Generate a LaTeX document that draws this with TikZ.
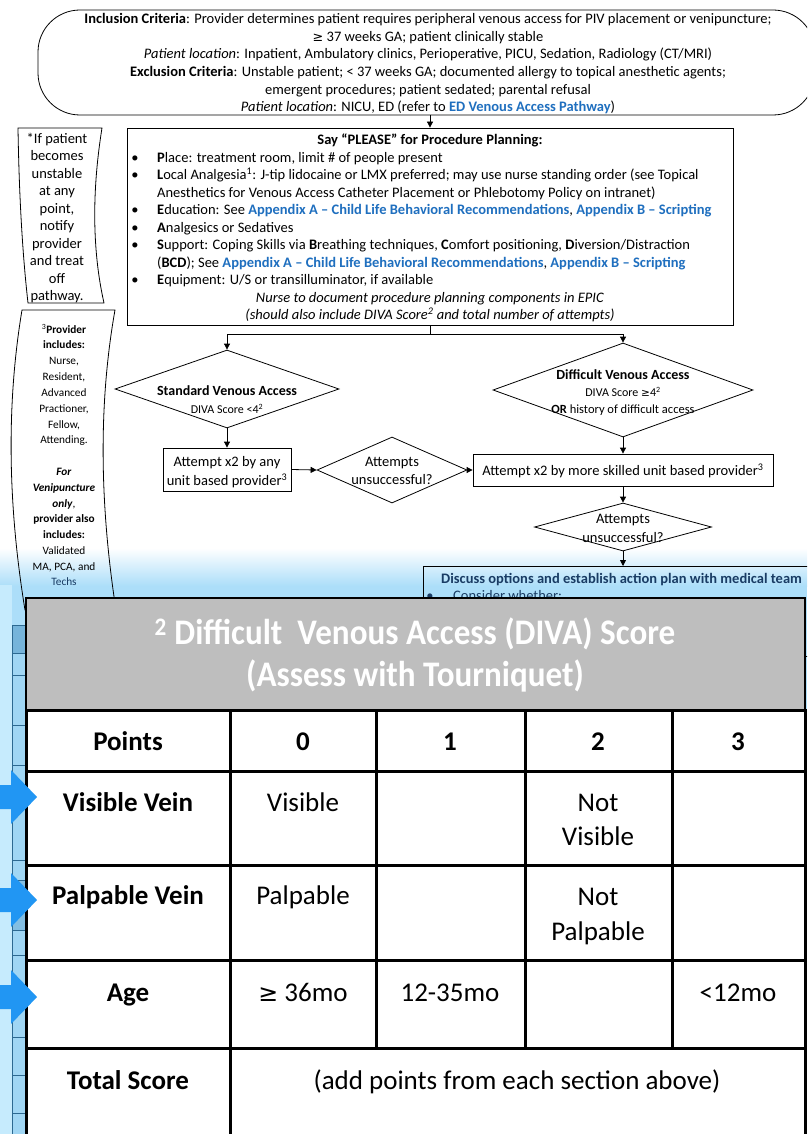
\documentclass[tikz,border=0pt]{standalone}
\usepackage{fontspec}
\setmainfont{Carlito}
\newfontfamily\symf[Scale=0.88]{DejaVu Sans}
\newfontfamily\hdrf[FakeStretch=0.92]{Carlito}
\usetikzlibrary{shapes.geometric,arrows.meta}
\definecolor{linkblue}{RGB}{31,111,191}
\definecolor{hdrgray}{RGB}{190,190,190}
\definecolor{skyA}{RGB}{172,222,249}
\definecolor{skyL}{RGB}{198,235,253}
\definecolor{skyD}{RGB}{160,214,244}
\definecolor{skyCell}{RGB}{118,180,218}
\definecolor{skyLine}{RGB}{45,105,145}
\definecolor{arrowblue}{RGB}{33,150,243}
\definecolor{tinttext}{RGB}{25,60,100}
\newcommand\gte{{\symf ≥}}
\newcommand\lnk[1]{\textcolor{linkblue}{\textbf{#1}}}
\begin{document}
\begin{tikzpicture}[x=1pt,y=-1pt,
  flow/.style={draw=black,line width=0.8pt},
  tip/.style={-{Triangle[length=6pt,width=6pt]}},
  ln/.style={inner sep=0pt,anchor=mid,yshift=-3pt},
  body/.style={ln,font=\fontsize{14.5}{17.5}\selectfont},
  bodyl/.style={inner sep=0pt,anchor=mid west,yshift=-3pt,font=\fontsize{14.5}{17.5}\selectfont},
  note/.style={ln,font=\fontsize{11.3}{14}\selectfont},
  grid/.style={line width=3pt,line cap=rect},
  cell/.style={inner sep=0pt,anchor=mid,yshift=-7pt,font=\fontsize{27}{32}\selectfont},
  cellb/.style={cell,font=\fontsize{27}{32}\selectfont\bfseries},
  hdr/.style={inner sep=0pt,anchor=mid,yshift=-8pt,text=white,font=\fontsize{36}{42}\selectfont\hdrf\bfseries},
  bluearrow/.style={fill=arrowblue,draw=none}
]
\useasboundingbox (0,0) rectangle (807,1134);
\clip (0,0) rectangle (807,1134);
\fill[white] (0,0) rectangle (807,1134);

% ---- tinted lower layer with side strip ----
\fill[skyA] (0,585) rectangle (807,1134);
\shade[top color=white,bottom color=skyA] (0,548) rectangle (807,586);
\fill[skyL] (0,585) rectangle (12,1134);
\fill[skyD] (12,625) rectangle (26,1134);
\fill[skyCell] (12,625) rectangle (26,653);
\fill[skyCell!70!skyD] (12,880) rectangle (26,930);
\draw[skyLine,line width=0.8pt] (12,625) -- (12,1134);
\foreach \yy in {625,653,675,725,765,860,880,930,955,1037,1075,1113}
  \draw[skyLine,line width=0.8pt] (12,\yy) -- (26,\yy);

% ---- criteria terminator ----
\node[flow,rounded corners=42pt,minimum width=777pt,minimum height=105pt,inner sep=0pt]
  (crit) at (426.5,62.5) {};
\node[body] (c1) at (428,18) {\textbf{Inclusion Criteria}: Provider determines patient requires peripheral venous access for PIV placement or venipuncture;};
\node[body] (c2) at (428,36) {\gte{} 37 weeks GA; patient clinically stable};
\node[body] (c3) at (428,53) {\textit{Patient location}: Inpatient, Ambulatory clinics, Perioperative, PICU, Sedation, Radiology (CT/MRI)};
\node[body] (c4) at (428,71) {\textbf{Exclusion Criteria}: Unstable patient; < 37 weeks GA; documented allergy to topical anesthetic agents;};
\node[body] (c5) at (428,89) {emergent procedures; patient sedated; parental refusal};
\node[body] (c6) at (428,106) {\textit{Patient location}: NICU, ED (refer to \lnk{ED Venous Access Pathway})};

% ---- PLEASE planning box ----
\node[flow,minimum width=606pt,minimum height=197pt,inner sep=0pt] (please) at (430,226.5) {};
\draw[flow,tip] (crit.south -| please.north) -- (please.north);
\node[body] (p0) at (430,139) {\textbf{Say “PLEASE” for Procedure Planning:}};
\foreach \yy in {157,174,209,227,244,279}
  \node[body] at (135,\yy) {\textbullet};
\node[bodyl] (p1) at (157,157) {\textbf{P}lace: treatment room, limit \# of people present};
\node[bodyl] (p2) at (157,174) {\textbf{L}ocal Analgesia\textsuperscript{1}: J-tip lidocaine or LMX preferred; may use nurse standing order (see Topical};
\node[bodyl] (p3) at (157,192) {Anesthetics for Venous Access Catheter Placement or Phlebotomy Policy on intranet)};
\node[bodyl] (p4) at (157,209) {\textbf{E}ducation: See \lnk{Appendix A – Child Life Behavioral Recommendations}, \lnk{Appendix B – Scripting}};
\node[bodyl] (p5) at (157,227) {\textbf{A}nalgesics or Sedatives};
\node[bodyl] (p6) at (157,244) {\textbf{S}upport: Coping Skills via \textbf{B}reathing techniques, \textbf{C}omfort positioning, \textbf{D}iversion/Distraction};
\node[bodyl] (p7) at (157,262) {(\textbf{BCD}); See \lnk{Appendix A – Child Life Behavioral Recommendations}, \lnk{Appendix B – Scripting}};
\node[bodyl] (p8) at (157,279) {\textbf{E}quipment: U/S or transilluminator, if available};
\node[body] (p9) at (430,297) {\textit{Nurse to document procedure planning components in EPIC}};
\node[body] (p10) at (430,314) {\textit{(should also include DIVA Score\textsuperscript{2} and total number of attempts)}};

% ---- side notes ----
\draw[flow] (18,128) -- (102,128) .. controls (92,190) and (92,250) .. (104,303)
  -- (28,303) .. controls (22,250) and (19,190) .. (18,128) -- cycle;
\node[body] (n1) at (57,138) {*If patient};
\node[body] (n2) at (57,155.5) {becomes};
\node[body] (n3) at (57,173) {unstable};
\node[body] (n4) at (57,190.5) {at any};
\node[body] (n5) at (57,208) {point,};
\node[body] (n6) at (57,225.5) {notify};
\node[body] (n7) at (57,243) {provider};
\node[body] (n8) at (57,260.5) {and treat};
\node[body] (n9) at (57,278) {off};
\node[body] (n10) at (57,295.5) {pathway.};

\draw[flow] (22,310) -- (115,310) .. controls (99,400) and (99,500) .. (116,610)
  -- (25,610) .. controls (7,500) and (7,400) .. (22,310) -- cycle;
\node[note] (v1) at (64,328) {\textsuperscript{3}\textbf{Provider}};
\node[note] (v2) at (64,343) {\textbf{includes:}};
\node[note] (v3) at (64,359) {Nurse,};
\node[note] (v4) at (64,375) {Resident,};
\node[note] (v5) at (64,391) {Advanced};
\node[note] (v6) at (64,407) {Practioner,};
\node[note] (v7) at (64,423) {Fellow,};
\node[note] (v8) at (64,438) {Attending.};
\node[note] (v9) at (64,470) {\textbf{\textit{For}}};
\node[note] (v10) at (64,486) {\textbf{\textit{Venipuncture}}};
\node[note] (v11) at (64,502) {\textbf{\textit{only}},};
\node[note] (v12) at (64,517) {\textbf{provider also}};
\node[note] (v13) at (64,533) {\textbf{includes:}};
\node[note] (v14) at (64,549) {Validated};
\node[note] (v15) at (64,565) {MA, PCA, and};
\node[note,text=tinttext] (v16) at (64,580) {Techs};

% ---- decision flow ----
\coordinate (split) at (430,334);
\node[flow,diamond,inner sep=0pt,minimum width=224pt,minimum height=78pt] (std) at (227,389) {};
\node[flow,diamond,inner sep=0pt,minimum width=260pt,minimum height=94pt] (dif) at (623,390) {};
\draw[flow] (please.south -| split) -- (split);
\draw[flow,tip] (split) -| (std.north);
\draw[flow,tip] (split) -| (dif.north);
\node[ln,font=\fontsize{14}{17}\selectfont\bfseries] (s1) at (227,390) {Standard Venous Access};
\node[ln,font=\fontsize{12}{15}\selectfont] (s2) at (227,408) {DIVA Score <4\textsuperscript{2}};
\node[ln,font=\fontsize{14}{17}\selectfont\bfseries] (d1) at (623,374) {Difficult Venous Access};
\node[ln,font=\fontsize{12}{15}\selectfont] (d2) at (623,391) {DIVA Score \gte4\textsuperscript{2}};
\node[ln,font=\fontsize{12.5}{15}\selectfont] (d3) at (623,408) {\textbf{OR} history of difficult access};

\node[flow,minimum width=128pt,minimum height=43pt,inner sep=0pt] (any) at (227,469.5) {};
\node[body] (a1) at (227,461) {Attempt x2 by any};
\node[body] (a2) at (227,480) {unit based provider\textsuperscript{3}};
\node[flow,diamond,inner sep=0pt,minimum width=150pt,minimum height=66pt] (mid) at (392,470) {};
\node[body] (m1) at (392,461) {Attempts};
\node[body] (m2) at (392,479) {unsuccessful?};
\node[flow,minimum width=300pt,minimum height=32pt,inner sep=0pt] (skill) at (623,470) {};
\node[body] (k1) at (623,470) {Attempt x2 by more skilled unit based provider\textsuperscript{3}};
\node[flow,diamond,inner sep=0pt,minimum width=177pt,minimum height=48pt] (mid2) at (623,527) {};
\node[body] (q1) at (623,518) {Attempts};
\node[body] (q2) at (623,537) {unsuccessful?};
\node[flow,minimum width=430pt,minimum height=90pt,inner sep=0pt,anchor=north west] (disc) at (423,566) {};
\node[inner sep=0pt,anchor=mid west,yshift=-3pt,text=tinttext,font=\fontsize{14.5}{17.5}\selectfont\bfseries] (dt) at (441,578)
  {Discuss options and establish action plan with medical team};
\node[body,text=tinttext] at (430,595) {\textbullet};
\node[bodyl,text=tinttext] (dc) at (453,595) {Consider whether:};

\draw[flow,tip] (std.south) -- (any.north);
\draw[flow,tip] (any.east) -- (mid.west);
\draw[flow,tip] (mid.east) -- (skill.west);
\draw[flow,tip] (dif.south) -- (skill.north);
\draw[flow,tip] (skill.south) -- (mid2.north);
\draw[flow,tip] (mid2.south) -- (mid2.south |- disc.north);

% ---- DIVA score table ----
\fill[hdrgray] (26,598) rectangle (805,710);
\draw[line width=1.2pt] (26,710) -- (26,598) -- (805,598) -- (805,710);
\node[hdr] (h1) at (415,634) {\textsuperscript{2} Difficult\ \ Venous Access (DIVA) Score};
\node[hdr] (h2) at (415,676) {(Assess with Tourniquet)};
\fill[white] (26,710) rectangle (805,1140);
\draw[grid] (26,1140) -- (26,710) -- (805,710) -- (805,1140);
\foreach \yy in {771,865,960,1048} \draw[grid] (26,\yy) -- (805,\yy);
\draw[grid] (230,710) -- (230,1140);
\foreach \xx in {376,525,672} \draw[grid] (\xx,710) -- (\xx,1048);

\node[cellb] (t00) at (128,741) {Points};
\node[cellb] (t01) at (303,741) {0};
\node[cellb] (t02) at (450,741) {1};
\node[cellb] (t03) at (598,741) {2};
\node[cellb] (t04) at (738,741) {3};
\node[cellb] (t10) at (128,802) {Visible Vein};
\node[cell] (t11) at (303,802) {Visible};
\node[cell] (t13a) at (598,802) {Not};
\node[cell] (t13b) at (598,836) {Visible};
\node[cellb] (t20) at (128,895) {Palpable Vein};
\node[cell] (t21) at (303,895) {Palpable};
\node[cell] (t23a) at (598,896) {Not};
\node[cell] (t23b) at (598,931) {Palpable};
\node[cellb] (t30) at (128,992) {Age};
\node[cell] (t31) at (303,992) {\gte{} 36mo};
\node[cell] (t32) at (450,992) {12-35mo};
\node[cell] (t34) at (738,992) {<12mo};
\node[cellb] (t40) at (128,1080) {Total Score};
\node[cell] (t41) at (517,1080) {(add points from each section above)};

% ---- pointer arrows on the strip ----
\foreach \yy in {797,900,997}
  \fill[bluearrow] (-5,\yy-12) -- (11,\yy-12) -- (11,\yy-27) -- (37,\yy)
    -- (11,\yy+27) -- (11,\yy+12) -- (-5,\yy+12) -- cycle;
\end{tikzpicture}
\end{document}
